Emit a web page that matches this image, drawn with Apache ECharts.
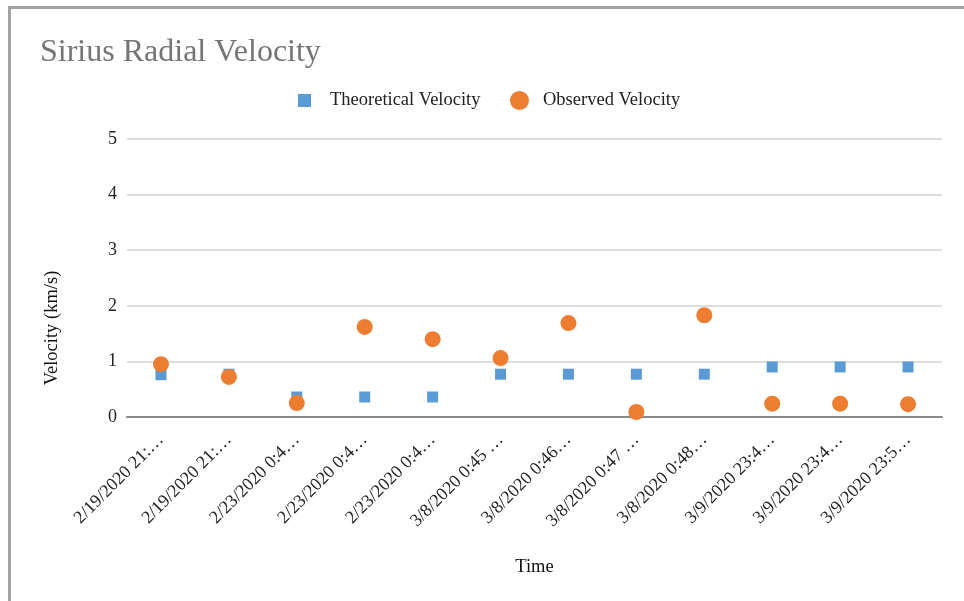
<!DOCTYPE html>
<html>
<head>
<meta charset="utf-8">
<script src="https://cdn.jsdelivr.net/npm/echarts@6/dist/echarts.min.js"></script>
<style>
html,body{margin:0;padding:0;background:#fff;}
#chart{position:absolute;left:0;top:0;width:964px;height:601px;}
#frame{position:absolute;left:8px;top:6px;right:0;bottom:0;border-left:3px solid #a3a3a3;border-top:3px solid #a3a3a3;pointer-events:none;}
</style>
</head>
<body>
<div id="chart"></div>
<div id="frame"></div>
<script>
const categories = [
  "2/19/2020 21:…", "2/19/2020 21:…", "2/23/2020 0:4…", "2/23/2020 0:4…",
  "2/23/2020 0:4…", "3/8/2020 0:45 …", "3/8/2020 0:46…", "3/8/2020 0:47 …",
  "3/8/2020 0:48…", "3/9/2020 23:4…", "3/9/2020 23:4…", "3/9/2020 23:5…"
];
const theoretical = [0.76, 0.77, 0.36, 0.36, 0.36, 0.77, 0.77, 0.77, 0.77, 0.90, 0.90, 0.90];
const observed = [0.95, 0.72, 0.25, 1.62, 1.40, 1.06, 1.69, 0.09, 1.83, 0.24, 0.24, 0.23];
const yTicks = [0, 1, 2, 3, 4, 5];

const FONT = '"Liberation Serif", "Times New Roman", serif';
const chart = echarts.init(document.getElementById('chart'), null, {renderer: 'canvas'});
chart.setOption({
  animation: false,
  textStyle: {fontFamily: FONT},
  title: {
    text: 'Sirius Radial Velocity',
    left: 35, top: 32,
    textStyle: {fontFamily: FONT, fontSize: 32, fontWeight: 'normal', color: '#757575'}
  },
  legend: [
    {
      data: ['Theoretical Velocity'],
      left: 298, top: 91, padding: 0,
      icon: 'rect', itemWidth: 13, itemHeight: 13,
      textStyle: {fontFamily: FONT, fontSize: 18.5, color: '#222', padding: [0, 0, 0, 14]}
    },
    {
      data: ['Observed Velocity'],
      left: 510, top: 91, padding: 0,
      icon: 'circle', itemWidth: 19, itemHeight: 19,
      textStyle: {fontFamily: FONT, fontSize: 18.5, color: '#222', padding: [0, 0, 0, 9]}
    }
  ],
  grid: {left: 127, right: 22, top: 139, bottom: 184, containLabel: false},
  xAxis: {
    type: 'category',
    data: categories,
    name: 'Time',
    nameLocation: 'middle',
    nameGap: 141,
    nameTextStyle: {fontFamily: FONT, fontSize: 18.5, color: '#111'},
    axisLine: {show: true, lineStyle: {color: '#8a8a8a', width: 2}},
    axisTick: {show: false},
    axisLabel: {rotate: 45, interval: 0, margin: 20, fontFamily: FONT, fontSize: 18, color: '#222'},
    splitLine: {show: false}
  },
  yAxis: {
    type: 'value',
    min: yTicks[0], max: yTicks[yTicks.length - 1], interval: 1,
    name: 'Velocity (km/s)',
    nameLocation: 'middle',
    nameGap: 65,
    nameTextStyle: {fontFamily: FONT, fontSize: 18.5, color: '#111', padding: [0, 100, 0, 0]},
    axisLine: {show: false},
    axisTick: {show: false},
    axisLabel: {margin: 10, fontFamily: FONT, fontSize: 18, color: '#222'},
    splitLine: {lineStyle: {color: '#dedede', width: 2}}
  },
  series: [
    {
      name: 'Theoretical Velocity',
      type: 'scatter',
      symbol: 'rect',
      symbolSize: 11,
      itemStyle: {color: '#5b9bd5', opacity: 1},
      data: theoretical
    },
    {
      name: 'Observed Velocity',
      type: 'scatter',
      symbol: 'circle',
      symbolSize: 16,
      itemStyle: {color: '#ed7d31', opacity: 1},
      data: observed
    }
  ]
});
</script>
</body>
</html>
